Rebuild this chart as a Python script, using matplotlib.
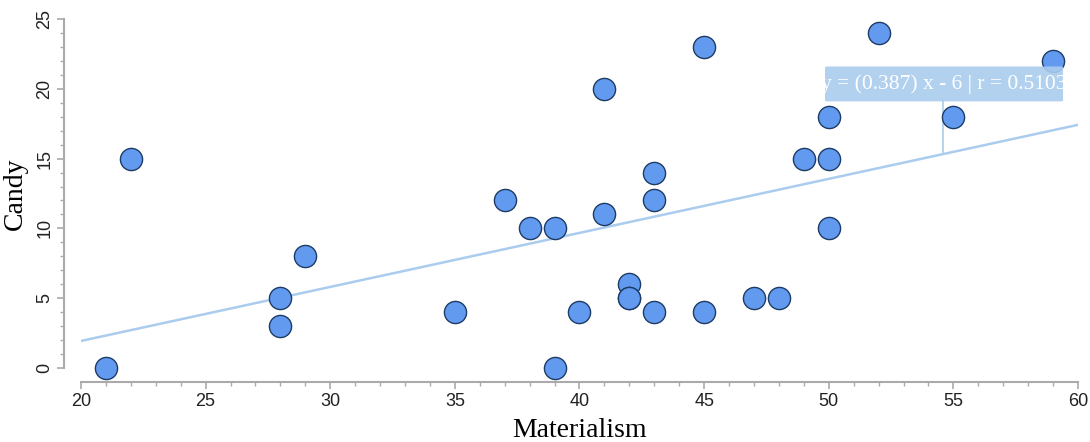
import numpy as np
import matplotlib.pyplot as plt
from matplotlib.ticker import MultipleLocator
from matplotlib.patches import FancyBboxPatch

materialism = [21, 22, 28, 28, 29, 35, 37, 38, 39, 39, 40, 41, 41, 42, 42, 42,
               43, 43, 43, 45, 45, 47, 48, 49, 50, 50, 50, 52, 55, 59]
candy = [0, 15, 5, 3, 8, 4, 12, 10, 10, 0, 4, 20, 11, 6, 5, 5,
         14, 12, 4, 23, 4, 5, 5, 15, 18, 15, 10, 24, 18, 22]
fit_label = "y = (0.387) x - 6 | r = 0.5103"

x = np.array(materialism, dtype=float)
y = np.array(candy, dtype=float)
slope, intercept = np.polyfit(x, y, 1)

fig = plt.figure(figsize=(10.9, 4.42), dpi=100)
ax = fig.add_axes([0.0743, 0.1674, 0.9147, 0.7896])

xs = np.array([20, 60])
ax.plot(xs, slope * xs + intercept, color="#aaccee", lw=1.8, zorder=1)

ax.scatter(x, y, s=255, facecolor="#629af0", edgecolor="#1d3c66",
           linewidth=1.0, zorder=3, clip_on=False)

# tooltip of the fit line
xt = 54.6
ax.plot([xt, xt], [slope * xt + intercept, 19.2], color="#aaccee", lw=1.2, zorder=2)
box = FancyBboxPatch((49.85, 19.1), 9.55, 2.5, boxstyle="round,pad=0,rounding_size=0.1",
                     facecolor="#aaccee", edgecolor="none", alpha=0.9, zorder=4,
                     mutation_aspect=0.5)
ax.add_patch(box)
t = ax.text(xt + 0.02, 20.35, fit_label, color="white", family="Liberation Serif",
            fontsize=15.5, ha="center", va="center", zorder=5)
t.set_clip_path(box)

ax.set_xlim(20, 60)
ax.set_ylim(0, 25)
for s in ["top", "right"]:
    ax.spines[s].set_visible(False)
ax.spines["left"].set_position(("outward", 12))
ax.spines["bottom"].set_position(("outward", 10))
for s in ["left", "bottom"]:
    ax.spines[s].set_color("#aaaaaa")
    ax.spines[s].set_linewidth(1.5)

ax.xaxis.set_major_locator(MultipleLocator(5))
ax.xaxis.set_minor_locator(MultipleLocator(1))
ax.yaxis.set_major_locator(MultipleLocator(5))
ax.yaxis.set_minor_locator(MultipleLocator(1))
ax.tick_params(which="major", length=5, color="#aaaaaa", width=1.2,
               labelsize=13, labelcolor="#222222", pad=3)
ax.tick_params(which="minor", length=3, color="#aaaaaa", width=1)
ax.tick_params(axis="y", labelrotation=90)
for lab in ax.get_yticklabels():
    lab.set_va("center")
for lab in ax.get_xticklabels() + ax.get_yticklabels():
    lab.set_family("Liberation Sans")

ax.set_xlabel("Materialism", family="Liberation Serif", fontsize=20, labelpad=6)
ax.set_ylabel("Candy", family="Liberation Serif", fontsize=20, labelpad=6)

fig.savefig("out.png", dpi=100)
